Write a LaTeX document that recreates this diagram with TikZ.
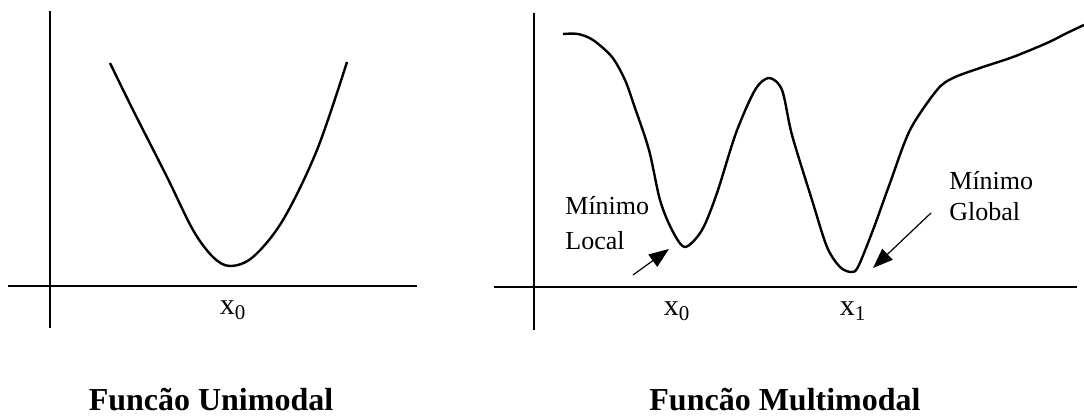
\documentclass[tikz,border=0pt]{standalone}
\usepackage{fontspec}
\setmainfont{Liberation Serif}
\usetikzlibrary{arrows.meta}
\begin{document}
\begin{tikzpicture}[x=0.5pt,y=-0.5pt,
  axis/.style={line width=1.4pt},
  curve/.style={line width=1.2pt, line join=round},
  pointer/.style={line width=0.6pt, -{Triangle[length=10pt,width=7.5pt]}},
  lbl/.style={font=\fontsize{13}{17.5}\selectfont, inner sep=0pt},
  xlbl/.style={font=\fontsize{15}{18}\selectfont, inner sep=0pt},
  title/.style={font=\fontsize{16}{19}\selectfont\bfseries, inner sep=0pt}]
\useasboundingbox (0,0) rectangle (1084,416);
% left plot
\draw[axis] (50,11) -- (50,328);
\draw[axis] (8,286) -- (417,286);
\draw[curve] plot[smooth, tension=0.55] coordinates {(110,63) (133,110) (167,177) (193,230) (213,257) (230,266) (253,257) (283,220) (317,150) (347,62)};
\node[xlbl, anchor=base] (xa) at (233,315) {x\textsubscript{0}};
\node[title, anchor=base] (t1) at (211,411) {Funcão Unimodal};
% right plot
\draw[axis] (534,13) -- (534,330);
\draw[axis] (494,287) -- (1077,287);
\draw[curve] plot[smooth, tension=0.5] coordinates {(563,34) (578,34) (593,40) (612,57) (625,80) (635,108) (649,150) (660,200) (672,230) (685,247) (702,230) (717,193) (736,133) (755,90) (769,78) (782,90) (792,135) (812,200) (827,247) (840,267) (851,272) (858,267) (873,230) (890,183) (910,130) (937,90) (953,78) (980,68) (1013,57) (1047,43) (1067,33) (1084,25)};
\node[xlbl, anchor=base] (xb) at (677,316) {x\textsubscript{0}};
\node[xlbl, anchor=base] (xc) at (853,316) {x\textsubscript{1}};
\node[lbl, anchor=base west, align=left] (ml) at (565,250) {Mínimo\\Local};
\node[lbl, anchor=base west, align=left, font=\fontsize{13}{15.5}\selectfont] (mg) at (949,221) {Mínimo\\Global};
\coordinate (lt) at (633,275);
\coordinate (lh) at (669,249);
\coordinate (gt) at (931,213);
\coordinate (gh) at (873,268);
\draw[pointer] (lt) -- (lh);
\draw[pointer] (gt) -- (gh);
\node[title, anchor=base] (t2) at (785,411) {Funcão Multimodal};
\end{tikzpicture}
\end{document}
